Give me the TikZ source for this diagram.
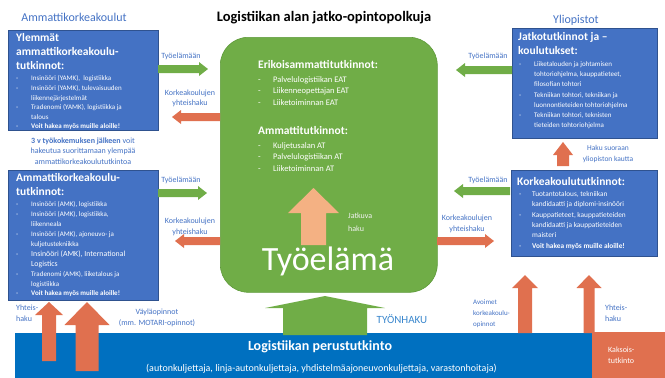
\documentclass[tikz,border=0pt]{standalone}
\usepackage{fontspec}
\setmainfont{Carlito}
\usepackage{tikz}
\definecolor{boxblue}{HTML}{4472C4}
\definecolor{boxedge}{HTML}{2F528F}
\definecolor{workgreen}{HTML}{70AD47}
\definecolor{greenedge}{HTML}{5E9A3A}
\definecolor{applyred}{HTML}{E0704F}
\definecolor{softorange}{HTML}{F4B183}
\definecolor{barblue}{HTML}{0070C0}
\definecolor{labelblue}{HTML}{4472C4}

\begin{document}
\begin{tikzpicture}[x=1pt, y=-1pt,
    degree/.style={fill=boxblue, draw=boxedge, line width=0.6pt, anchor=north west, inner sep=0pt},
    lbl/.style={text=labelblue, inner sep=0pt, align=center, font=\fontsize{8}{10.5}\selectfont},
    head/.style={text=white, inner sep=0pt, anchor=north west, align=left, font=\bfseries\fontsize{11.5}{14}\selectfont},
    items/.style={text=white, inner sep=0pt, anchor=north west, align=left, font=\fontsize{7}{9.6}\selectfont}]
        \def\dsh{\makebox[15pt][l]{-}}
        \def\ind{\hspace*{15pt}}
        \useasboundingbox (0,0) rectangle (665,378);

        \node[font=\bfseries\fontsize{14.5}{17}\selectfont] (title) at (324,18) {Logistiikan alan jatko-opintopolkuja};
        \node[lbl, font=\fontsize{12}{14}\selectfont] (amklabel) at (74,17) {Ammattikorkeakoulut};
        \node[lbl, font=\fontsize{12}{14}\selectfont] (yolabel) at (576,20) {Yliopistot};

        % boxes
        \node[degree, minimum width=150, minimum height=100] (yamk) at (8,30) {};
        \node[degree, minimum width=150, minimum height=130] (amk) at (8,170) {};
        \node[degree, minimum width=145, minimum height=110] (jatko) at (512,28) {};
        \node[degree, minimum width=146, minimum height=86] (kk) at (511,170) {};
        \node[fill=workgreen, draw=greenedge, line width=0.6pt, rounded corners=28, anchor=north west,
              minimum width=217, minimum height=255] (tyo) at (220,37) {};
        \node[fill=barblue, anchor=north west, inner sep=0pt, minimum width=577, minimum height=45] (perusbar) at (15,333) {};
        \node[fill=applyred, anchor=north west, inner sep=0pt, minimum width=73, minimum height=46] (kaksois) at (592,332) {};

        % horizontal arrows
        \foreach \sx/\sy/\ex/\col in {158/69/208/workgreen, 220/117/172/applyred, 158/193/207/workgreen,
                220/241/175/applyred, 512/70/456/workgreen, 510/191/454/workgreen, 437/241/494/applyred} {
            \pgfmathparse{\ex > \sx ? \ex - 9 : \ex + 9}
            \let\hx\pgfmathresult
            \fill[\col] (\sx,\sy-4) -- (\hx,\sy-4) -- (\hx,\sy-7) -- (\ex,\sy) -- (\hx,\sy+7)
                -- (\hx,\sy+4) -- (\sx,\sy+4) -- cycle;
        }
        % vertical arrows
        \foreach \tx/\ty/\hw/\hb/\sw/\by/\col in {49/302/14/315/7/361/applyred, 87/302/22.5/325/11.5/371/applyred,
                525/275/13/288/7/333/applyred, 589/275/12.5/288/5.5/333/applyred, 563/142/10/155/6/166/applyred,
                313.5/188/25.5/213/12.5/245/softorange, 325/296/60/308/42/335/workgreen} {
            \fill[\col] (\tx,\ty) -- (\tx+\hw,\hb) -- (\tx+\sw,\hb) -- (\tx+\sw,\by) -- (\tx-\sw,\by)
                -- (\tx-\sw,\hb) -- (\tx-\hw,\hb) -- cycle;
        }

        % left side
        \node[head] (yamkhead) at (16,33) {Ylemmät\\ammattikorkeakoulu-\\tutkinnot:};
        \node[items] (yamklist) at (16,75.5) {\dsh Insinööri (YAMK),\ \ logistiikka\\
            \dsh Insinööri (YAMK), tulevaisuuden\\ \ind liikennejärjestelmät\\
            \dsh Tradenomi (YAMK), logistiikka ja\\ \ind talous\\
            \dsh\textbf{Voit hakea myös muille aloille!}};
        \node[lbl] (kokemus) at (83,151) {\textbf{3 v työkokemuksen jälkeen} voit\\hakeutua suorittamaan ylempää\\ammattikorkeakoulututkintoa};
        \node[head] (amkhead) at (16,173) {Ammattikorkeakoulu-\\tutkinnot:};
        \node[items, font=\fontsize{7}{9.9}\selectfont] (amklist) at (16,201.5) {\dsh Insinööri (AMK), logistiikka\\
            \dsh Insinööri (AMK), logistiikka,\\ \ind liikenneala\\
            \dsh Insinööri (AMK), ajoneuvo- ja\\ \ind kuljetustekniikka\\
            \dsh{\fontsize{7.8}{9.9}\selectfont Insinööri (AMK), International}\\ \ind{\fontsize{7.8}{9.9}\selectfont Logistics}\\
            \dsh Tradenomi (AMK), liiketalous ja\\ \ind logistiikka\\
            \dsh\textbf{Voit hakea myös muille aloille!}};

        % centre
        \node[head] (eathead) at (258,60) {Erikoisammattitutkinnot:};
        \node[items, font=\fontsize{8.5}{11.5}\selectfont] (eatlist) at (258,76) {\dsh Palvelulogistiikan EAT\\
            \dsh Liikenneopettajan EAT\\ \dsh Liiketoiminnan EAT};
        \node[head] (athead) at (258,126) {Ammattitutkinnot:};
        \node[items, font=\fontsize{8.5}{11.5}\selectfont] (atlist) at (258,142) {\dsh Kuljetusalan AT\\
            \dsh Palvelulogistiikan AT\\ \dsh Liiketoiminnan AT};
        \node[items, text=white!95!black, font=\fontsize{8}{13}\selectfont] (jatkuva) at (348,213) {Jatkuva\\haku};
        \node[text=white, inner sep=0pt, font=\fontsize{34}{40}\selectfont] (tyoelama) at (328,261) {Työelämä};

        % right side
        \node[head] (jatkohead) at (518,32) {Jatkotutkinnot ja –\\koulutukset:};
        \node[items, font=\fontsize{7}{10.2}\selectfont] (jatkolist) at (519,61.5) {\dsh Liiketalouden ja johtamisen\\
            \ind tohtoriohjelma, kauppatieteet,\\ \ind filosofian tohtori\\
            \dsh Tekniikan tohtori, tekniikan ja\\ \ind luonnontieteiden tohtoriohjelma\\
            \dsh Tekniikan tohtori, teknisten\\ \ind tieteiden tohtoriohjelma};
        \node[head] (kkhead) at (517,177) {Korkeakoulututkinnot:};
        \node[items, font=\fontsize{7.3}{10.4}\selectfont] (kklist) at (519,191) {\makebox[13pt][l]{-}Tuotantotalous, tekniikan\\
            \hspace*{13pt}kandidaatti ja diplomi-insinööri\\
            \makebox[13pt][l]{-}Kauppatieteet, kauppatieteiden\\ \hspace*{13pt}kandidaatti ja kauppatieteiden\\
            \hspace*{13pt}maisteri\\ \makebox[13pt][l]{-}\textbf{Voit hakea myös muille aloille!}};
        \node[lbl, font=\fontsize{7.5}{11}\selectfont] (suoraan) at (608,153.5) {Haku suoraan\\yliopiston kautta};

        % arrow labels
        \node[lbl] (tyo1) at (181,56) {Työelämään};
        \node[lbl] (yh1) at (190,98.5) {Korkeakoulujen\\yhteishaku};
        \node[lbl] (tyo2) at (181,180) {Työelämään};
        \node[lbl] (yh2) at (190,227) {Korkeakoulujen\\yhteishaku};
        \node[lbl] (tyo3) at (488,56) {Työelämään};
        \node[lbl] (tyo4) at (488,180) {Työelämään};
        \node[lbl] (yh3) at (467,224) {Korkeakoulujen\\yhteishaku};

        % bottom
        \node[lbl, anchor=north west, align=left] (yhteis1) at (16,305) {Yhteis-\\haku};
        \node[lbl] (vayla) at (157,318) {Väyläopinnot\\(mm. MOTARI-opinnot)};
        \node[lbl, text=labelblue!85!cyan, font=\fontsize{11}{13}\selectfont] (tyonhaku) at (402,319) {TYÖNHAKU};
        \node[lbl, anchor=north west, align=left, font=\fontsize{7}{11}\selectfont] (avoimet) at (473,299.5) {Avoimet\\korkeakoulu-\\opinnot};
        \node[lbl, anchor=north west, align=left] (yhteis2) at (605,305) {Yhteis-\\haku};
        \node[text=white, inner sep=0pt, font=\bfseries\fontsize{14}{17}\selectfont] (perus) at (320,347) {Logistiikan perustutkinto};
        \node[text=white, inner sep=0pt, font=\fontsize{10}{12}\selectfont] (tehtavat) at (321.5,369) {(autonkuljettaja, linja-autonkuljettaja, yhdistelmäajoneuvonkuljettaja, varastonhoitaja)};
        \node[items, font=\fontsize{8}{11}\selectfont] (kaksoisteksti) at (608,347) {Kaksois-\\tutkinto};
    \end{tikzpicture}
\end{document}
